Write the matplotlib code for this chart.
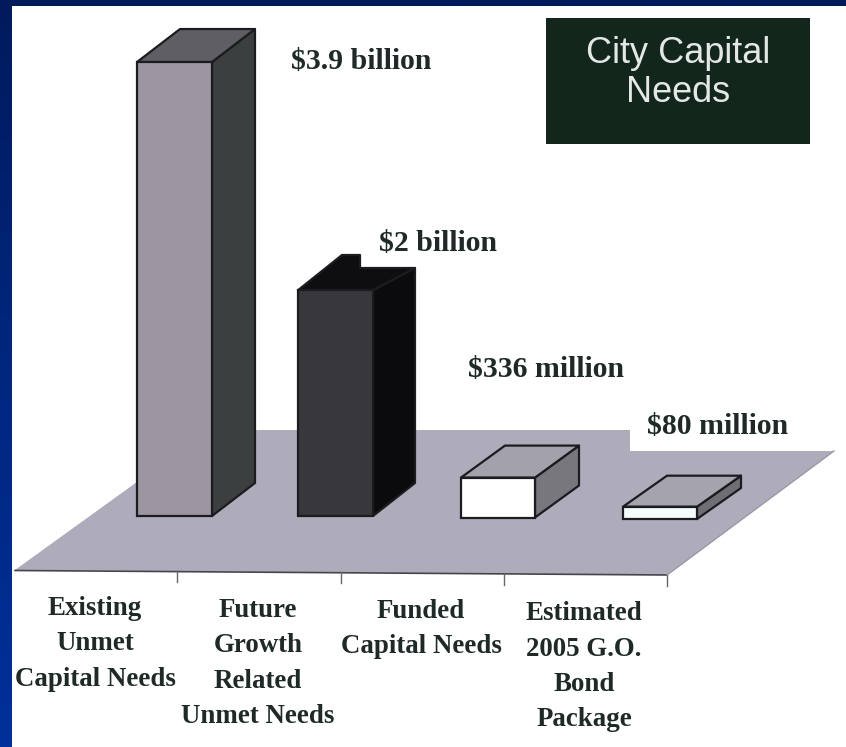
import numpy as np
import matplotlib
matplotlib.use("Agg")
import matplotlib.pyplot as plt
from matplotlib.patches import Polygon, Rectangle
from matplotlib.colors import LinearSegmentedColormap

# ---- data ----
categories = ["Existing\nUnmet\nCapital Needs", "Future\nGrowth\nRelated\nUnmet Needs",
              "Funded\nCapital Needs", "Estimated\n2005 G.O.\nBond\nPackage"]
# bar heights, in billions
values_billion = [3.9, 1.94, 0.33, 0.08]
value_labels = ["$3.9 billion", "$2 billion", "$336 million", "$80 million"]
title_text = "City Capital\nNeeds"

W, H = 846, 747
fig = plt.figure(figsize=(W / 100, H / 100), dpi=100)

# full-figure pixel canvas for the slide decoration
bg = fig.add_axes([0, 0, 1, 1])
bg.set_xlim(0, W); bg.set_ylim(H, 0); bg.axis("off")
cmap = LinearSegmentedColormap.from_list("b", ["#001a5c", "#00277f", "#00309a"])
bg.imshow(np.linspace(0, 1, 256)[:, None], cmap=cmap, aspect="auto", extent=(0, W, H, 0), zorder=0)
bg.add_patch(Rectangle((12, 6), W - 12, H - 6, fc="white", ec="none", zorder=1))

# floor
floor = [(15, 570), (209, 430), (630, 430), (630, 451), (834, 451), (667, 575)]
bg.add_patch(Polygon(floor, closed=True, fc="#aeabbb", ec="none", zorder=2))
bg.plot([15, 667], [570.5, 575], color="#45454e", lw=1.2, zorder=3)
bg.plot([667, 834], [575, 451], color="#9a98a6", lw=1.0, zorder=3)
for tx, ty in zip([177, 341, 504, 667], [571, 572, 574, 575]):
    bg.plot([tx, tx], [ty, ty + 11], color="#666666", lw=1.0, zorder=3)

# plotting axes: x in slide pixels, y = value in billions
px_per_b = 116.4
base_px = 516.0
ax_top_px = 16.0
ax_left, ax_right = 137.0, 741.0
ax = fig.add_axes([ax_left / W, (H - base_px) / H, (ax_right - ax_left) / W, (base_px - ax_top_px) / H])
ax.patch.set_alpha(0); ax.axis("off")
ax.set_ylim(0, (base_px - ax_top_px) / px_per_b)
ax.set_xlim(ax_left, ax_right)
ax.set_zorder(5)

lefts = [137, 298, 461, 623]
widths = [75, 75, 74, 74]
base_shift = [0, 0, 1.5, 3]           # bars stand slightly lower towards the right
depth = [(43, -33), (43, -33), (44, -32), (44, -31)]
front_col = ["#9b96a2", "#38383c", "#ffffff", "#f4fbfb"]
side_col = ["#3c3f40", "#0b0b0d", "#77777d", "#6e6e74"]
top_col = ["#5f5f63", "#0e0e11", "#a3a1ab", "#a5a3ad"]
edge = "#1c1c20"

for i, v in enumerate(values_billion):
    x0, x1 = lefts[i], lefts[i] + widths[i]
    dx, dy = depth[i]
    sh = base_shift[i] / px_per_b
    ax.bar(x0, v + sh, width=widths[i], bottom=-sh, align="edge", color=front_col[i],
           edgecolor=edge, lw=1.6, zorder=4, clip_on=False)
    # pixel positions for the top and bottom of the bar, via the value axis scale
    ytop = H - ax.transData.transform((x0, v))[1]
    yb = H - ax.transData.transform((x0, -sh))[1]
    xb, yback = x1 + dx, ytop + dy
    if i == 1:  # the back of this bar is trimmed in the source, leaving a notch
        clip = 268
        top = [(x0, ytop), (x1, ytop), (xb - 1, clip), (x0 + 62, clip), (x0 + 62, 255), (x0 + 44, 255)]
        side = [(x1, ytop), (xb - 1, clip), (xb - 1, yb + dy), (x1, yb)]
    else:
        top = [(x0, ytop), (x1, ytop), (xb, yback), (x0 + dx, yback)]
        side = [(x1, ytop), (xb, yback), (xb, yb + dy), (x1, yb)]
    bg.add_patch(Polygon(side, closed=True, fc=side_col[i], ec=edge, lw=1.6, joinstyle="round", zorder=4))
    bg.add_patch(Polygon(top, closed=True, fc=top_col[i], ec=edge, lw=1.6, joinstyle="round", zorder=4))

# value labels
label_pos = [(291, 69), (379, 251), (468, 377), (647, 434)]
for (lx, ly), s in zip(label_pos, value_labels):
    bg.text(lx, ly, s.replace("$", r"\$"), family="Liberation Serif", weight="bold", fontsize=21.4,
            color="#1f2a28", ha="left", va="baseline", zorder=6)

# category labels
cat_x = [95, 258, 421, 584]
cat_y = [615, 617, 618, 620]
line_h = [35.5, 35.3, 35, 35.5]
for cx, cy, s, lh in zip(cat_x, cat_y, categories, line_h):
    for j, line in enumerate(s.split("\n")):
        bg.text(cx, cy + j * lh, line, family="Liberation Serif", weight="bold", fontsize=19.4,
                color="#1f2a28", ha="center", va="baseline", zorder=6)

# title box
bg.add_patch(Rectangle((546, 18), 264, 126, fc="#13261c", ec="none", zorder=6))
for line, by in zip(title_text.split("\n"), [63, 102]):
    bg.text(678, by, line, family="Liberation Sans", fontsize=26, color="#e4e8e4",
            ha="center", va="baseline", zorder=7)

fig.savefig("out.png", dpi=100)
